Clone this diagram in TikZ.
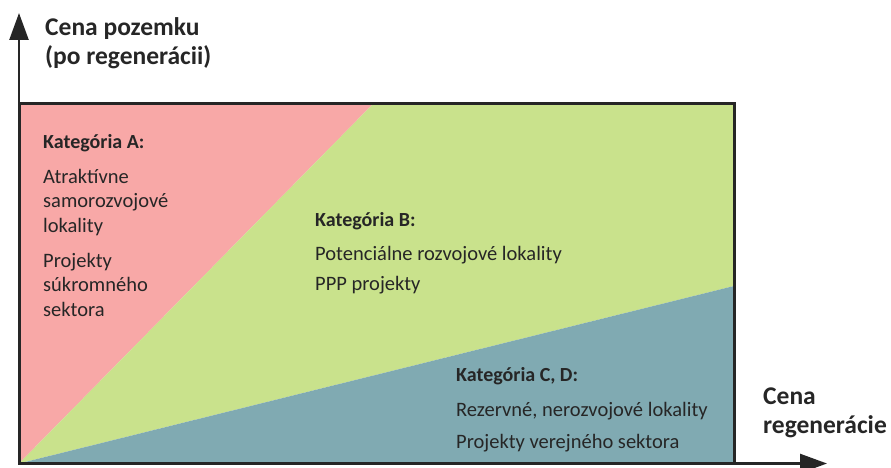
\documentclass[tikz,border=0pt]{standalone}
\usepackage{fontspec}
\setmainfont{Carlito}
\usepackage{xcolor}
\usetikzlibrary{arrows.meta}
\definecolor{catA}{RGB}{248,168,167}
\definecolor{catB}{RGB}{201,226,140}
\definecolor{catC}{RGB}{128,170,178}
\definecolor{ink}{RGB}{38,38,38}
\begin{document}
\begin{tikzpicture}[x=1pt, y=-1pt,
    axis/.style={ink, line width=2.5pt, -{Triangle[length=27pt, width=19pt]}},
    frame/.style={ink, line width=3pt},
    axislabel/.style={anchor=base west, inner sep=0pt, align=left, text=ink,
      font=\fontsize{25.5}{29}\selectfont\bfseries},
    cattitle/.style={anchor=base west, inner sep=0pt, text=ink,
      font=\fontsize{20}{24.5}\selectfont\bfseries},
    cattext/.style={anchor=base west, inner sep=0pt, align=left, text=ink,
      font=\fontsize{20.5}{24.5}\selectfont}]
    \useasboundingbox (0,0) rectangle (891,468);
    % categories
    \fill[catA] (19,104) -- (373,104) -- (19,463.5) -- cycle;
    \fill[catB] (373,104) -- (734,104) -- (734,286) -- (19,463.5) -- cycle;
    \fill[catC] (19,463.5) -- (734,286) -- (734,463.5) -- cycle;
    \draw[frame] (19,104) rectangle (734,463.5);
    % axes
    \coordinate (origin) at (19,463.5);
    \coordinate (ytip) at (19,13);
    \coordinate (xtip) at (827,463.5);
    \draw[axis] (origin) -- (ytip);
    \draw[axis] (origin) -- (xtip);
    % base of a multi-line node = baseline of its last line
    \node[axislabel] (ylabel) at (45,65) {Cena pozemku\\(po regenerácii)};
    \node[axislabel] (xlabel) at (763,433) {Cena\\regenerácie};
    % texts
    \node[cattitle] (titleA) at (43,149) {Kategória A:};
    \node[cattext] (textA1) at (43,232) {Atraktívne\\samorozvojové\\lokality};
    \node[cattext] (textA2) at (43,316) {Projekty\\súkromného\\sektora};
    \node[cattitle] (titleB) at (315,226) {Kategória B:};
    \node[cattext] (textB1) at (315,260) {Potenciálne rozvojové lokality};
    \node[cattext] (textB2) at (315,290) {PPP projekty};
    \node[cattitle] (titleC) at (456,381) {Kategória C, D:};
    \node[cattext] (textC1) at (456,416) {Rezervné, nerozvojové lokality};
    \node[cattext] (textC2) at (456,448) {Projekty verejného sektora};
\end{tikzpicture}
\end{document}
